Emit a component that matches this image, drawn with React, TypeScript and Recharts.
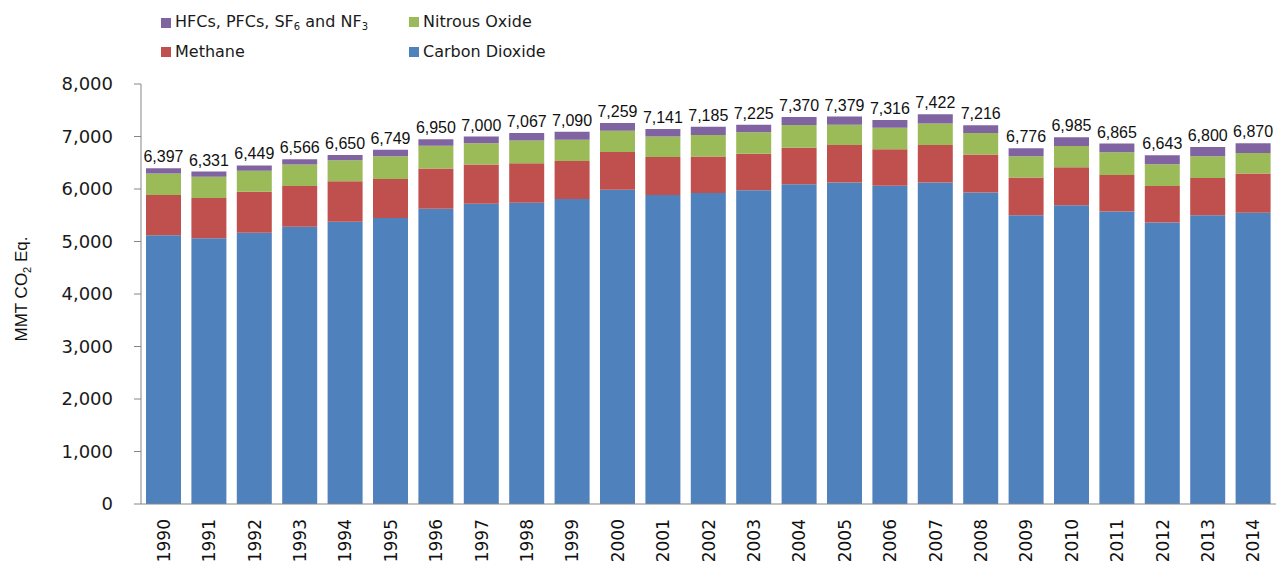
import { BarChart, Bar, XAxis, YAxis, LabelList, Label } from "recharts";

// U.S. greenhouse gas emissions by gas, MMT CO2 Eq.
const years = [
  "1990", "1991", "1992", "1993", "1994", "1995", "1996", "1997", "1998", "1999",
  "2000", "2001", "2002", "2003", "2004", "2005", "2006", "2007", "2008", "2009",
  "2010", "2011", "2012", "2013", "2014",
];
const carbonDioxide = [
  5121, 5060, 5165, 5280, 5375, 5450, 5625, 5720, 5740, 5810,
  5985, 5885, 5925, 5975, 6090, 6125, 6060, 6125, 5935, 5500,
  5690, 5570, 5363, 5500, 5550,
];
const methane = [
  766, 770, 785, 775, 775, 740, 765, 745, 752, 725,
  720, 725, 695, 695, 695, 715, 695, 715, 720, 720,
  725, 695, 695, 710, 745,
];
const nitrousOxide = [
  406, 405, 400, 410, 400, 435, 435, 405, 430, 405,
  405, 390, 410, 410, 435, 385, 410, 410, 410, 405,
  405, 435, 415, 415, 390,
];
const fluorinated = [
  104, 96, 99, 101, 100, 124, 125, 130, 145, 150,
  149, 141, 155, 145, 150, 154, 151, 172, 151, 151,
  165, 165, 170, 175, 185,
];
const totals = [
  6397, 6331, 6449, 6566, 6650, 6749, 6950, 7000, 7067, 7090,
  7259, 7141, 7185, 7225, 7370, 7379, 7316, 7422, 7216, 6776,
  6985, 6865, 6643, 6800, 6870,
];
const yTicks = [0, 1000, 2000, 3000, 4000, 5000, 6000, 7000, 8000];

const data = years.map((year, i) => ({
  year,
  co2: carbonDioxide[i],
  ch4: methane[i],
  n2o: nitrousOxide[i],
  hfc: fluorinated[i],
  total: totals[i],
}));

const COLORS = {
  co2: "#4F81BD",
  ch4: "#C0504D",
  n2o: "#9BBB59",
  hfc: "#8064A2",
};

const AXIS = "#868686";
const TAHOMA = "'DejaVu Sans', Tahoma, sans-serif";

const fmt = (v: number) => v.toLocaleString("en-US");

const subStyle = { fontSize: 10, position: "relative" as const, top: 3, verticalAlign: "baseline" };

const LegendItem = ({ left, top, color, children }: any) => (
  <div style={{ position: "absolute", left, top, display: "flex", alignItems: "center", whiteSpace: "nowrap" }}>
    <span style={{ width: 10, height: 10, background: color, display: "inline-block", marginRight: 4 }} />
    <span style={{ fontFamily: TAHOMA, fontSize: 16, color: "#1a1a1a", lineHeight: "20px" }}>{children}</span>
  </div>
);

// legend sits over the chart, two rows like the original
const ChartLegend = () => (
  <div style={{ position: "absolute", left: 0, top: 0, width: 1276, height: 70, pointerEvents: "none" }}>
    <LegendItem left={161} top={12} color={COLORS.hfc}>
      HFCs, PFCs, SF<sub style={subStyle}>6</sub> and NF<sub style={subStyle}>3</sub>
    </LegendItem>
    <LegendItem left={409} top={12} color={COLORS.n2o}>Nitrous Oxide</LegendItem>
    <LegendItem left={161} top={42} color={COLORS.ch4}>Methane</LegendItem>
    <LegendItem left={409} top={42} color={COLORS.co2}>Carbon Dioxide</LegendItem>
  </div>
);

const YearTick = ({ x, y, payload }: any) => (
  <text
    transform={`translate(${x},${y}) rotate(-90)`}
    textAnchor="end"
    dy="0.36em"
    fontFamily={TAHOMA}
    fontSize={17}
    fill="#111"
  >
    {payload.value}
  </text>
);

const AxisTitle = () => (
  <text
    transform="translate(27,289) rotate(-90)"
    textAnchor="middle"
    fontFamily="'Liberation Sans', Arial, sans-serif"
    fontSize={17}
    fill="#111"
  >
    MMT CO
    <tspan dy={4} fontSize={11}>2</tspan>
    <tspan dy={-4}> Eq.</tspan>
  </text>
);

export default function App() {
  return (
    <div style={{ position: "absolute", left: 0, top: 0, width: 1276, height: 563, background: "#fff" }}>
      <BarChart
        width={1276}
        height={563}
        data={data}
        margin={{ top: 84, right: 0, bottom: 0, left: 0 }}
        barSize={35}
      >
        <XAxis
          dataKey="year"
          height={59}
          tickLine={false}
          tickSize={0}
          tickMargin={15}
          axisLine={{ stroke: AXIS }}
          tick={<YearTick />}
          interval={0}
        />
        <YAxis
          width={141}
          domain={[0, 8000]}
          ticks={yTicks}
          tickFormatter={fmt}
          tickSize={7}
          tickMargin={21}
          axisLine={{ stroke: AXIS }}
          tickLine={{ stroke: AXIS }}
          tick={{ fontFamily: TAHOMA, fontSize: 18, fill: "#1a1a1a" }}
          interval={0}
        >
          <Label content={<AxisTitle />} />
        </YAxis>
        <Bar dataKey="co2" stackId="g" fill={COLORS.co2} isAnimationActive={false} />
        <Bar dataKey="ch4" stackId="g" fill={COLORS.ch4} isAnimationActive={false} />
        <Bar dataKey="n2o" stackId="g" fill={COLORS.n2o} isAnimationActive={false} />
        <Bar dataKey="hfc" stackId="g" fill={COLORS.hfc} isAnimationActive={false}>
          <LabelList
            dataKey="total"
            position="top"
            offset={6}
            formatter={(v: any) => fmt(Number(v))}
            style={{ fontFamily: "'Liberation Sans Narrow', 'Liberation Sans', Arial, sans-serif", fontSize: 16, fill: "#111" }}
          />
        </Bar>
      </BarChart>
      <ChartLegend />
    </div>
  );
}
